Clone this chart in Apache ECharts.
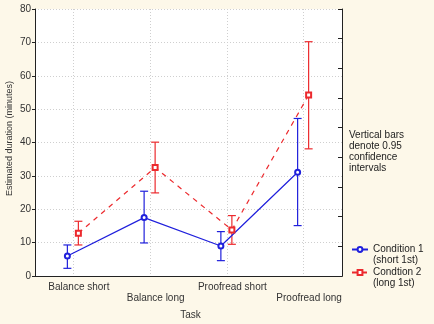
<!DOCTYPE html>
<html><head><meta charset="utf-8">
<script src="https://cdn.jsdelivr.net/npm/echarts@6/dist/echarts.min.js"></script>
<style>html,body{margin:0;padding:0;background:#fdf8e9;}#c{width:434px;height:324px;}</style>
</head><body><div id="c"></div>
<script>
const categories = ['Balance short', 'Balance long', 'Proofread short', 'Proofread long'];
const cond1Mean = [6.0, 17.5, 9.0, 31.1];
const cond1Low  = [2.3, 9.9, 4.6, 15.1];
const cond1High = [9.3, 25.4, 13.3, 47.2];
const cond2Mean = [12.8, 32.5, 13.8, 54.2];
const cond2Low  = [9.3, 24.9, 9.5, 38.1];
const cond2High = [16.4, 40.1, 18.1, 70.2];
const seriesNames = ['Condition 1', 'Condtion 2'];
const seriesSub = ['(short 1st)', '(long 1st)'];
const noteText = 'Vertical bars\ndenote 0.95\nconfidence\nintervals';

const BLUE = '#2020dc', RED = '#ec2a2e';
const FONT = "'Liberation Sans', Arial, sans-serif";
const chart = echarts.init(document.getElementById('c'));

function errData(lo, hi) { return categories.map((c, i) => [i, lo[i], hi[i]]); }
function errRender(color) {
  return function (params, api) {
    const x = api.value(0);
    const p1 = api.coord([x, api.value(1)]);
    const p2 = api.coord([x, api.value(2)]);
    const w = 4;
    const st = { stroke: color, lineWidth: 1.2 };
    return { type: 'group', children: [
      { type: 'line', shape: { x1: p1[0], y1: p1[1], x2: p2[0], y2: p2[1] }, style: st },
      { type: 'line', shape: { x1: p1[0] - w, y1: p1[1], x2: p1[0] + w, y2: p1[1] }, style: st },
      { type: 'line', shape: { x1: p2[0] - w, y1: p2[1], x2: p2[0] + w, y2: p2[1] }, style: st }
    ]};
  };
}
const hiddenX = { type: 'category', data: categories, show: false, boundaryGap: true };
const hiddenY = { type: 'value', min: 0, max: 80, show: false };
const dotted = { show: true, lineStyle: { color: '#cfcfcf', type: [1, 2], width: 1 } };

chart.setOption({
  backgroundColor: '#fdf8e9',
  animation: false,
  textStyle: { fontFamily: FONT },
  grid: [
    { left: 35, right: 92, top: 9, bottom: 48, show: true, backgroundColor: '#ffffff', borderWidth: 0, outerBoundsMode: 'none', containLabel: false },
    { left: 29, right: 98, top: 9, bottom: 48, outerBoundsMode: 'none', containLabel: false },
    { left: 40, right: 87, top: 9, bottom: 48, outerBoundsMode: 'none', containLabel: false }
  ],
  xAxis: [
    { type: 'category', gridIndex: 0, data: categories, boundaryGap: true, position: 'bottom',
      axisLine: { lineStyle: { color: '#222', width: 1 } },
      axisTick: { inside: true, alignWithLabel: true, length: 4, lineStyle: { color: '#222' } },
      splitLine: Object.assign({ alignWithLabel: true }, dotted),
      axisLabel: { interval: 0, fontSize: 10, color: '#333', fontFamily: FONT, margin: 6, lineHeight: 11,
        padding: [0, 0, 0, 11],
        formatter: (v, i) => (i % 2 ? '\n' + v : v) },
      name: 'Task', nameLocation: 'middle', nameGap: 34, nameMoveOverlap: false,
      nameTextStyle: { fontSize: 10, color: '#333', fontFamily: FONT, padding: [0, 0, 0, 4] } },
    { type: 'category', gridIndex: 0, data: categories, boundaryGap: true, position: 'top',
      axisLine: { lineStyle: { color: '#222', width: 1 } },
      axisTick: { inside: true, alignWithLabel: true, length: 4, lineStyle: { color: '#222' } },
      axisLabel: { show: false }, splitLine: { show: false } },
    Object.assign({ gridIndex: 1 }, hiddenX),
    Object.assign({ gridIndex: 2 }, hiddenX)
  ],
  yAxis: [
    { type: 'value', gridIndex: 0, min: 0, max: 80, interval: 10, position: 'left',
      axisLine: { show: true, lineStyle: { color: '#222', width: 1 } },
      axisTick: { show: true, inside: false, length: 3, lineStyle: { color: '#222' } },
      splitLine: dotted,
      axisLabel: { fontSize: 10, color: '#333', fontFamily: FONT, margin: 4 },
      name: 'Estimated duration (minutes)', nameLocation: 'middle', nameGap: 21, nameRotate: 90,
      nameMoveOverlap: false,
      nameTextStyle: { fontSize: 9, color: '#333', fontFamily: FONT, padding: [0, 0, 0, 8] } },
    { type: 'value', gridIndex: 0, min: 0, max: 9, interval: 1, position: 'right',
      axisLine: { show: true, lineStyle: { color: '#222', width: 1 } },
      axisTick: { show: true, inside: true, length: 4, lineStyle: { color: '#222' } },
      axisLabel: { show: false }, splitLine: { show: false } },
    Object.assign({ gridIndex: 1 }, hiddenY),
    Object.assign({ gridIndex: 2 }, hiddenY)
  ],
  legend: [0, 1].map(k => ({
    data: [seriesNames[k]], left: 351, top: k === 0 ? 233 : 256, padding: 0,
    itemWidth: 16, itemHeight: 6, itemGap: 0,
    formatter: n => '\n' + n + '\n' + seriesSub[k],
    textStyle: { fontSize: 10, color: '#222', fontFamily: FONT, lineHeight: 11 }
  })),
  graphic: [
    { type: 'text', left: 349, top: 130,
      style: { text: noteText, fontSize: 10, lineHeight: 11, fill: '#222', fontFamily: FONT } }
  ],
  series: [
    { type: 'custom', name: 'err1', xAxisIndex: 2, yAxisIndex: 2, data: errData(cond1Low, cond1High),
      renderItem: errRender(BLUE), z: 3, silent: true },
    { type: 'custom', name: 'err2', xAxisIndex: 3, yAxisIndex: 3, data: errData(cond2Low, cond2High),
      renderItem: errRender(RED), z: 3, silent: true },
    { type: 'line', name: seriesNames[0], xAxisIndex: 2, yAxisIndex: 2, data: cond1Mean,
      symbol: 'emptyCircle', symbolSize: 5, z: 5,
      lineStyle: { color: BLUE, width: 1.2 }, itemStyle: { color: BLUE, borderColor: BLUE, borderWidth: 1 } },
    { type: 'line', name: seriesNames[1], xAxisIndex: 3, yAxisIndex: 3, data: cond2Mean,
      symbol: 'emptyRect', symbolSize: 5, z: 5,
      lineStyle: { color: RED, width: 1.2, type: [5, 5] }, itemStyle: { color: RED, borderColor: RED, borderWidth: 1 } }
  ]
});
</script></body></html>
